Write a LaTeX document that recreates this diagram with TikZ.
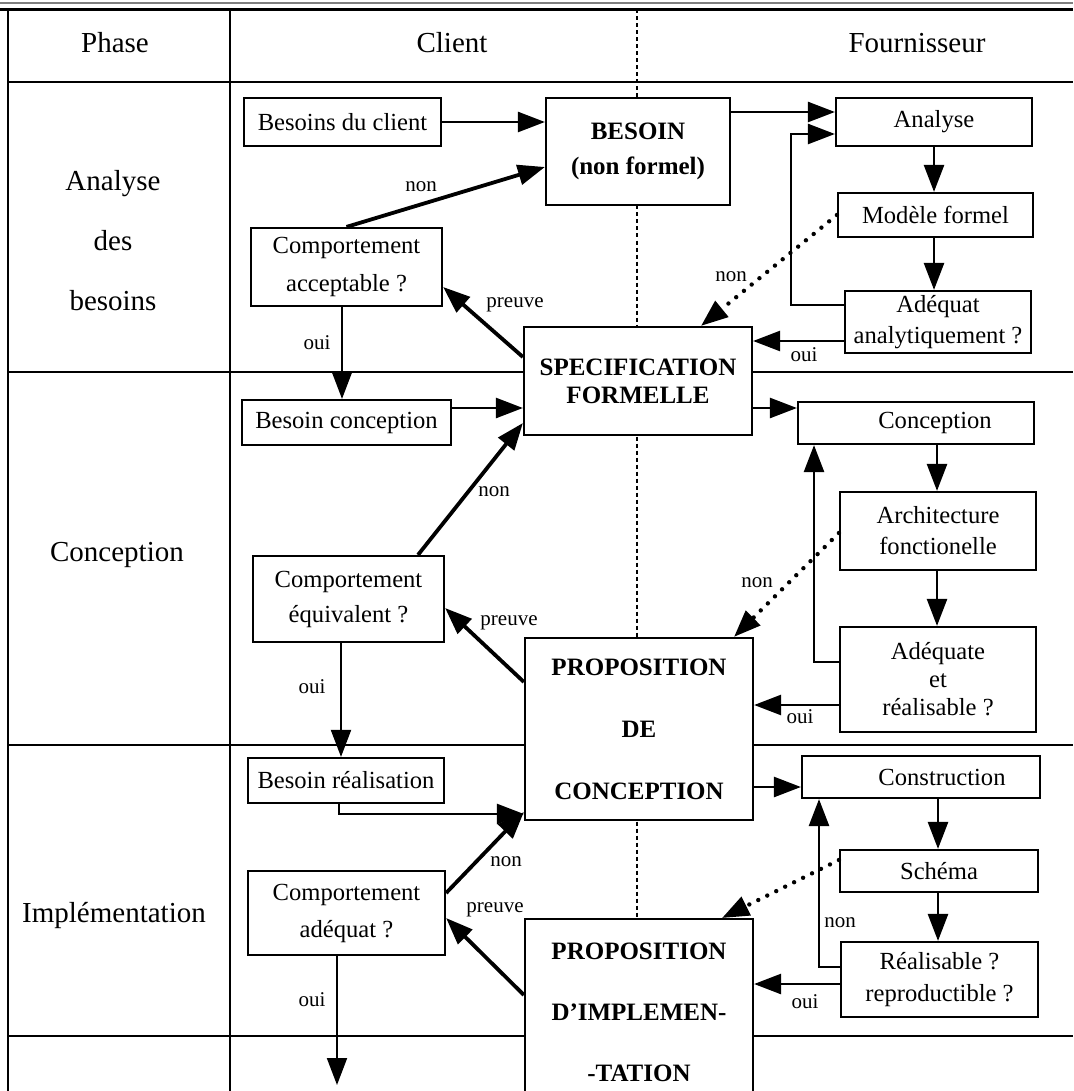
\documentclass[tikz,border=0pt]{standalone}
\usepackage{fontspec}
\setmainfont{Liberation Serif}
\usetikzlibrary{arrows.meta, calc}

\begin{document}
\begin{tikzpicture}[x=0.5pt, y=-0.5pt,
		boite/.style={draw, line width=1.1pt, fill=white, inner sep=0pt, align=center, font=\fontsize{12.3}{#1}\selectfont},
		boite/.default=15,
		grosse/.style={boite, font=\fontsize{12.5}{#1}\selectfont\bfseries},
		grosse/.default=15,
		titre/.style={font=\fontsize{14.5}{17}\selectfont},
		etiq/.style={font=\fontsize{10.5}{12}\selectfont, inner sep=0pt},
		fleche/.style={line width=1.3pt, -{Triangle[length=13.5pt, width=10pt]}},
		epaisse/.style={fleche, line width=1.9pt},
		mince/.style={fleche, line width=1pt},
		pointille/.style={fleche, line width=2.2pt, line cap=round, dash pattern=on 0pt off 5pt},
		trait/.style={line width=1pt}]
		\useasboundingbox (0,0) rectangle (1073,1091);
		% cadre du tableau
		\draw[line width=0.6pt, gray] (0,3) -- (1073,3);
		\draw[line width=1.3pt] (0,9.5) -- (1073,9.5);
		\draw[trait] (8,9.5) -- (8,1091);
		\draw[trait] (230,9.5) -- (230,1091);
		\foreach \y in {82,372,745,1036} \draw[trait] (8,\y) -- (1073,\y);
		% separation client / fournisseur
		\draw[line width=0.8pt, dash pattern=on 2pt off 1.5pt] (637,9.5) -- (637,1091);
		% en-tete et phases
		\node[titre] (phase) at (115,43) {Phase};
		\node[titre] (client) at (452,43) {Client};
		\node[titre] (fourn) at (917,43) {Fournisseur};
		\node[titre, align=center, font=\fontsize{14.5}{30}\selectfont] (ana) at (113,241) {Analyse\\des\\besoins};
		\node[titre] (conc) at (117,555) {Conception};
		\node[titre] (impl) at (114,915) {Implémentation};
		% analyse des besoins
		\node[boite, minimum width=98.5pt, minimum height=24pt] (bc) at (342.5,122) {Besoins du client};
		\node[grosse=17.5, minimum width=92pt, minimum height=53.5pt] (besoin) at (638,151.5) {BESOIN\\(non formel)};
		\node[boite, minimum width=98pt, minimum height=24pt] (analyse) at (934,122) {Analyse};
		\node[boite, minimum width=97.5pt, minimum height=22pt] (modele) at (935.5,215) {Modèle formel};
		\node[boite=15.5, minimum width=93pt, minimum height=31pt] (adeq) at (938,322) {Adéquat\\analytiquement ?};
		\node[boite=19, minimum width=95.5pt, minimum height=39pt] (compacc) at (346.5,267) {Comportement\\acceptable ?};
		\node[grosse=14, minimum width=114pt, minimum height=54pt] (spec) at (638,381) {SPECIFICATION\\FORMELLE};
		% conception
		\node[boite, minimum width=104.5pt, minimum height=22.5pt] (bconc) at (346.5,422.5) {Besoin conception};
		\node[boite, minimum width=118pt, minimum height=21pt] (concep) at (916,423) {\hspace*{19pt}Conception};
		\node[boite=15.5, minimum width=98pt, minimum height=39pt] (archi) at (938,531) {Architecture\\fonctionelle};
		\node[boite=14, minimum width=98pt, minimum height=52.5pt] (adeqr) at (938,679.5) {Adéquate\\et\\réalisable ?};
		\node[boite=17.5, minimum width=95.5pt, minimum height=43pt] (compeq) at (348.5,599) {Comportement\\équivalent ?};
		\node[grosse=31, minimum width=114pt, minimum height=91pt] (propc) at (639,729) {PROPOSITION\\DE\\CONCEPTION};
		% implementation
		\node[boite, minimum width=98pt, minimum height=22.5pt] (breal) at (346,780.5) {Besoin réalisation};
		\node[boite, minimum width=119pt, minimum height=21pt] (constr) at (921,777) {\hspace*{21pt}Construction};
		\node[boite, minimum width=99pt, minimum height=21pt] (schema) at (939,871) {Schéma};
		\node[boite=16, minimum width=98.5pt, minimum height=37.5pt] (realis) at (939.5,979.5) {Réalisable ?\\reproductible ?};
		\node[boite=18.5, minimum width=98.5pt, minimum height=42pt] (compadq) at (346.5,913) {Comportement\\adéquat ?};
		\node[grosse=30.5, minimum width=114pt, minimum height=93pt, anchor=north] (propi) at (639,918) {PROPOSITION\\D'IMPLEMEN-\\-TATION};
		\coordinate (suite) at (337,1085);
		% fleches : analyse des besoins
		\draw[fleche] (bc.east) -- (bc.east -| besoin.west);
		\draw[epaisse] (compacc.north) -- (besoin.west |- 0,167);
		\draw[fleche] (besoin.east |- 0,112) -- (analyse.west |- 0,112);
		\draw[fleche] (adeq.west |- 0,305) -| (791,134) -- (analyse.west |- 0,134);
		\draw[fleche] (analyse.south -| 934,0) -- (modele.north -| 934,0);
		\draw[fleche] (modele.south -| 934,0) -- (adeq.north -| 934,0);
		\draw[pointille] (modele.west) -- (spec.north -| 701,0);
		\draw[fleche] (adeq.west |- 0,341) -- (spec.east |- 0,341);
		\draw[epaisse] (spec.west |- 0,357) -- (compacc.east |- 0,287);
		\draw[mince] (compacc.south -| 342,0) -- (bconc.north -| 342,0);
		% fleches : conception
		\draw[fleche] (bconc.east |- 0,408) -- (spec.west |- 0,408);
		\draw[epaisse] (compeq.north -| 418,0) -- (spec.west |- 0,423);
		\draw[epaisse] (propc.west |- 0,682) -- (compeq.east |- 0,608);
		\draw[mince] (compeq.south -| 341,0) -- (breal.north -| 341,0);
		\draw[fleche] (spec.east |- 0,408) -- (concep.west |- 0,408);
		\draw[fleche] (concep.south -| 937,0) -- (archi.north -| 937,0);
		\draw[fleche] (archi.south -| 937,0) -- (adeqr.north -| 937,0);
		\draw[fleche] (adeqr.west |- 0,662) -| (concep.south -| 814,0);
		\draw[pointille] (archi.west |- 0,533) -- (propc.north -| 734,0);
		\draw[fleche] (adeqr.west |- 0,705) -- (propc.east |- 0,705);
		% fleches : implementation
		\draw[fleche] (breal.south -| 339,0) |- (propc.west |- 0,814);
		\draw[epaisse] (compadq.east |- 0,893) -- (propc.west |- 0,812);
		\draw[epaisse] (propi.west |- 0,995) -- (compadq.east |- 0,918);
		\draw[mince] (compadq.south -| 337,0) -- (suite);
		\draw[fleche] (propc.east |- 0,787) -- (constr.west |- 0,787);
		\draw[fleche] (constr.south -| 938,0) -- (schema.north -| 938,0);
		\draw[fleche] (schema.south -| 938,0) -- (realis.north -| 938,0);
		\draw[fleche] (realis.west |- 0,967) -| (constr.south -| 819,0);
		\draw[pointille] (schema.west |- 0,860) -- (propi.north -| 722,0);
		\draw[fleche] (realis.west |- 0,984) -- (propi.east |- 0,984);
		% etiquettes
		\node[etiq] (n1) at (421,187) {non};
		\node[etiq] (p1) at (515,305) {preuve};
		\node[etiq] (o1) at (317,343) {oui};
		\node[etiq] (n2) at (731,277) {non};
		\node[etiq] (o2) at (804,355) {oui};
		\node[etiq] (n3) at (494,492) {non};
		\node[etiq] (p2) at (509,623) {preuve};
		\node[etiq] (o3) at (312,687) {oui};
		\node[etiq] (n4) at (757,583) {non};
		\node[etiq] (o4) at (800,717) {oui};
		\node[etiq] (n5) at (506,862) {non};
		\node[etiq] (p3) at (495,910) {preuve};
		\node[etiq] (o5) at (312,1000) {oui};
		\node[etiq] (n6) at (840,923) {non};
		\node[etiq] (o6) at (805,1002) {oui};
	\end{tikzpicture}
\end{document}
